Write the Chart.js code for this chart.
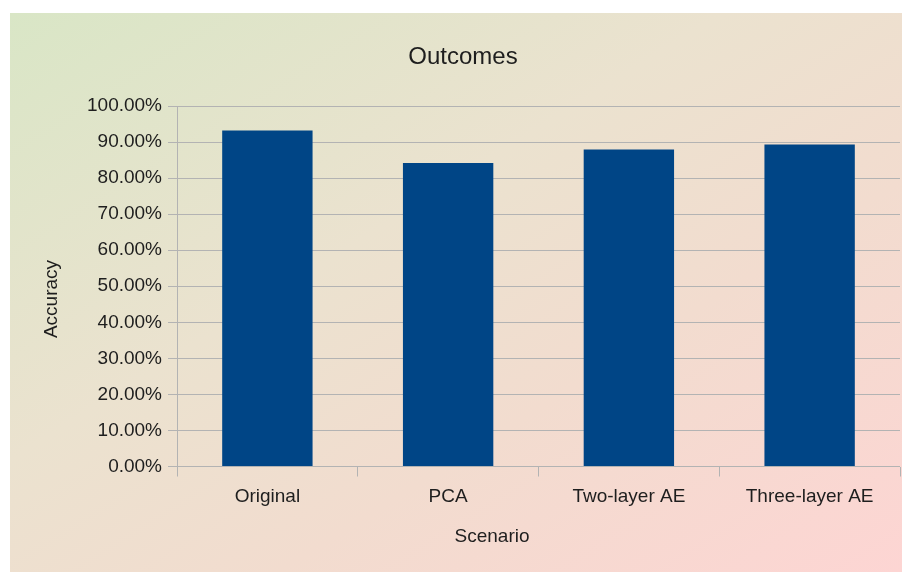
<!DOCTYPE html>
<html>
<head>
<meta charset="utf-8">
<script src="https://cdn.jsdelivr.net/npm/chart.js@4"></script>
<style>
    html, body { margin: 0; padding: 0; background: #ffffff; }
    #bg {
        position: absolute; left: 10px; top: 13px; width: 892px; height: 559px;
        background: linear-gradient(to bottom right, #d9e6c6 0%, #ebe2cf 40%, #f2dccf 65%, #fdd5d3 100%);
    }
    #wrap { position: absolute; left: 0; top: 0; width: 902px; height: 572px; }
</style>
</head>
<body>
<div id="bg"></div>
<div id="wrap"><canvas id="outcomes" width="902" height="572"></canvas></div>
<script>
const scenarios = ['Original', 'PCA', 'Two-layer AE', 'Three-layer AE']
const accuracy = [93.2, 84.2, 87.9, 89.3]
const chartTitle = 'Outcomes'
const xTitle = 'Scenario'
const yTitle = 'Accuracy'

const gridGray = '#b3b3b3'
const textColor = '#1e1e1e'
const fontFamily = '"Liberation Sans", Arial, sans-serif'

// titles are drawn by hand so they sit where the reference has them
const titlesPlugin = {
    id: 'titles',
    afterDraw(chart){
        const ctx = chart.ctx
        ctx.save()
        ctx.fillStyle = textColor
        ctx.textAlign = 'center'
        ctx.textBaseline = 'middle'
        ctx.font = `24px ${fontFamily}`
        ctx.fillText(chartTitle, 463, 57)
        ctx.font = `19px ${fontFamily}`
        ctx.fillText(xTitle, 492, 537)
        ctx.translate(52, 299)
        ctx.rotate(-Math.PI/2)
        ctx.fillText(yTitle, 0, 0)
        ctx.restore()
    }
}

const myChart = new Chart(document.querySelector('#outcomes'),{
    type: 'bar',
    data: {
        labels: scenarios,
        datasets: [{
            label: yTitle,
            data: accuracy,
            backgroundColor: '#004586',
            barPercentage: 0.5,
            categoryPercentage: 1.0
        }]
    },
    options: {
        responsive: false,
        animation: false,
        layout: {
            padding: { top: 106, right: 2, left: 0, bottom: 0 }
        },
        plugins: {
            legend: { display: false },
            title: { display: false },
            tooltip: { enabled: false }
        },
        scales: {
            x: {
                afterFit: (s)=>{ s.height = 105.5 },
                grid: {
                    offset: true,
                    drawOnChartArea: false,
                    color: gridGray,
                    tickLength: 10
                },
                border: { display: false },
                ticks: {
                    color: textColor,
                    padding: 9,
                    font: { family: fontFamily, size: 19 }
                }
            },
            y: {
                min: 0,
                max: 100,
                afterFit: (s)=>{ s.width = 177 },
                grid: {
                    color: gridGray,
                    tickLength: 9
                },
                border: { display: true, color: gridGray },
                ticks: {
                    stepSize: 10,
                    color: textColor,
                    padding: 6,
                    font: { family: fontFamily, size: 19 },
                    callback: (v)=> v.toFixed(2) + '%'
                }
            }
        }
    },
    plugins: [titlesPlugin]
})
</script>
</body>
</html>
